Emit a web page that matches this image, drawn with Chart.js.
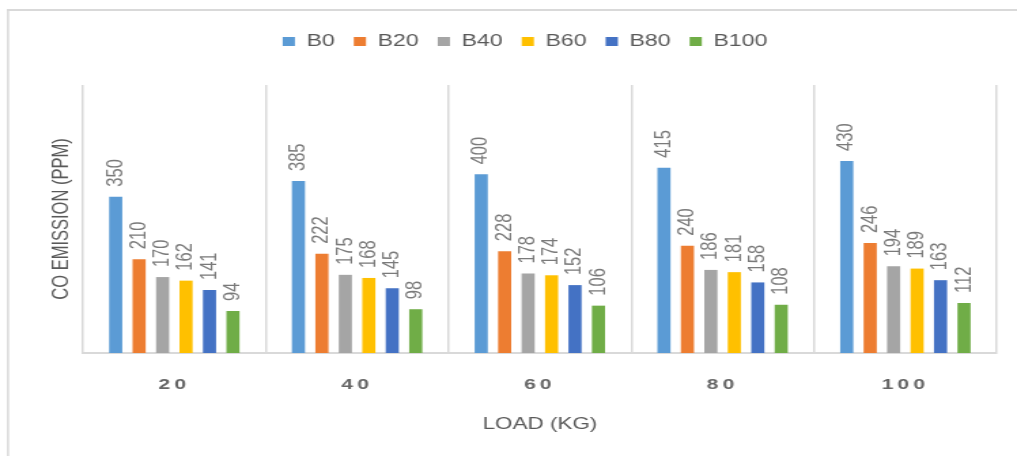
<!DOCTYPE html>
<html>
<head>
<meta charset="utf-8">
<script src="https://cdn.jsdelivr.net/npm/chart.js@4.4.1/dist/chart.umd.min.js"></script>
<style>
  html, body { margin: 0; padding: 0; background: #ffffff; overflow: hidden; }
</style>
</head>
<body>
<!-- drawn at 748 px wide and shown stretched to 1017 px -->
<canvas id="chart" width="748" height="456" style="display:block;width:1017px;height:456px"></canvas>
<script>
// Load categories (kg)
const loads = ['20', '40', '60', '80', '100'];

// CO emission (ppm) for each blend
const b0   = [350, 385, 400, 415, 430];
const b20  = [210, 222, 228, 240, 246];
const b40  = [170, 175, 178, 186, 194];
const b60  = [162, 168, 174, 181, 189];
const b80  = [141, 145, 152, 158, 163];
const b100 = [94, 98, 106, 108, 112];

const seriesNames = ['B0', 'B20', 'B40', 'B60', 'B80', 'B100'];
const seriesValues = [b0, b20, b40, b60, b80, b100];
const seriesColors = ['#5B9BD5', '#ED7D31', '#A5A5A5', '#FFC000', '#4472C4', '#70AD47'];

const FONT = '"Liberation Sans", Arial, sans-serif';
const TEXT = '#595959';
const GRID = '#D9D9D9';

// Light frame around the figure (top and left edges)
const framePlugin = {
  id: 'frame',
  beforeDraw(chart) {
    const ctx = chart.ctx;
    ctx.save();
    ctx.strokeStyle = GRID;
    ctx.lineWidth = 2;
    ctx.beginPath();
    ctx.moveTo(5, 10);
    ctx.lineTo(chart.width, 10);
    ctx.stroke();
    ctx.lineWidth = 1.5;
    ctx.beginPath();
    ctx.moveTo(5.9, 9);
    ctx.lineTo(5.9, chart.height);
    ctx.stroke();
    ctx.restore();
  }
};

// Extra room between the legend and the plot area
const legendGapPlugin = {
  id: 'legendGap',
  beforeLayout(chart) {
    const lg = chart.legend;
    if (lg && !lg.__gapWrapped) {
      const fit = lg.fit;
      lg.fit = function () { fit.call(this); this.height += 25; };
      lg.__gapWrapped = true;
    }
  }
};

// Spaced-out category labels on the load axis
const tickSpacingPlugin = {
  id: 'tickSpacing',
  afterLayout(chart) {
    const sc = chart.scales.x;
    if (sc && !sc.__spaced) {
      const draw = sc.drawLabels;
      sc.drawLabels = function (area) {
        const ctx = this.ctx;
        ctx.save();
        ctx.letterSpacing = '3px';
        draw.call(this, area);
        ctx.restore();
      };
      sc.__spaced = true;
    }
  }
};

// Vertical value labels above every bar
const valueLabelPlugin = {
  id: 'valueLabels',
  afterDatasetsDraw(chart) {
    const ctx = chart.ctx;
    ctx.save();
    ctx.font = '16.5px ' + FONT;
    ctx.fillStyle = '#7A7A7A';
    ctx.textAlign = 'left';
    ctx.textBaseline = 'middle';
    chart.data.datasets.forEach((ds, i) => {
      const meta = chart.getDatasetMeta(i);
      meta.data.forEach((bar, j) => {
        ctx.save();
        ctx.translate(bar.x, bar.y - 10);
        ctx.rotate(-Math.PI / 2);
        ctx.fillText(String(ds.data[j]), 0, 0);
        ctx.restore();
      });
    });
    ctx.restore();
  }
};

const datasets = seriesNames.map((name, i) => ({
  label: name,
  data: seriesValues[i],
  backgroundColor: seriesColors[i],
  borderWidth: 0,
  categoryPercentage: 0.77,
  barPercentage: 0.56
}));

new Chart(document.getElementById('chart'), {
  type: 'bar',
  data: { labels: loads, datasets },
  plugins: [framePlugin, legendGapPlugin, tickSpacingPlugin, valueLabelPlugin],
  options: {
    responsive: false,
    animation: false,
    devicePixelRatio: 1,
    layout: { padding: { left: 39.2, right: 14.9, top: 19, bottom: 0 } },
    plugins: {
      legend: {
        position: 'top',
        labels: {
          boxWidth: 9,
          boxHeight: 9,
          padding: 14,
          color: TEXT,
          font: { family: FONT, size: 17 }
        }
      },
      tooltip: { enabled: false }
    },
    scales: {
      x: {
        grid: { color: GRID, lineWidth: 1.5, drawTicks: false, offset: true },
        border: { color: GRID, width: 2 },
        ticks: { color: '#666666', padding: 22.5, font: { family: FONT, size: 15.5, weight: 'bold' } },
        title: {
          display: true,
          text: 'LOAD (KG)',
          color: TEXT,
          font: { family: FONT, size: 16.5 },
          padding: { top: 0, bottom: 21.6 }
        },
        afterFit(scale) { scale.height = 103; }
      },
      y: {
        min: 0,
        max: 600,
        ticks: { display: false },
        grid: { display: false },
        border: { display: false },
        title: {
          display: true,
          text: 'CO EMISSION (PPM)',
          color: TEXT,
          font: { family: FONT, size: 16.5 },
          padding: { top: -3.5, bottom: 0 }
        },
        afterFit(scale) { scale.width = 21.8; }
      }
    }
  }
});
</script>
</body>
</html>
